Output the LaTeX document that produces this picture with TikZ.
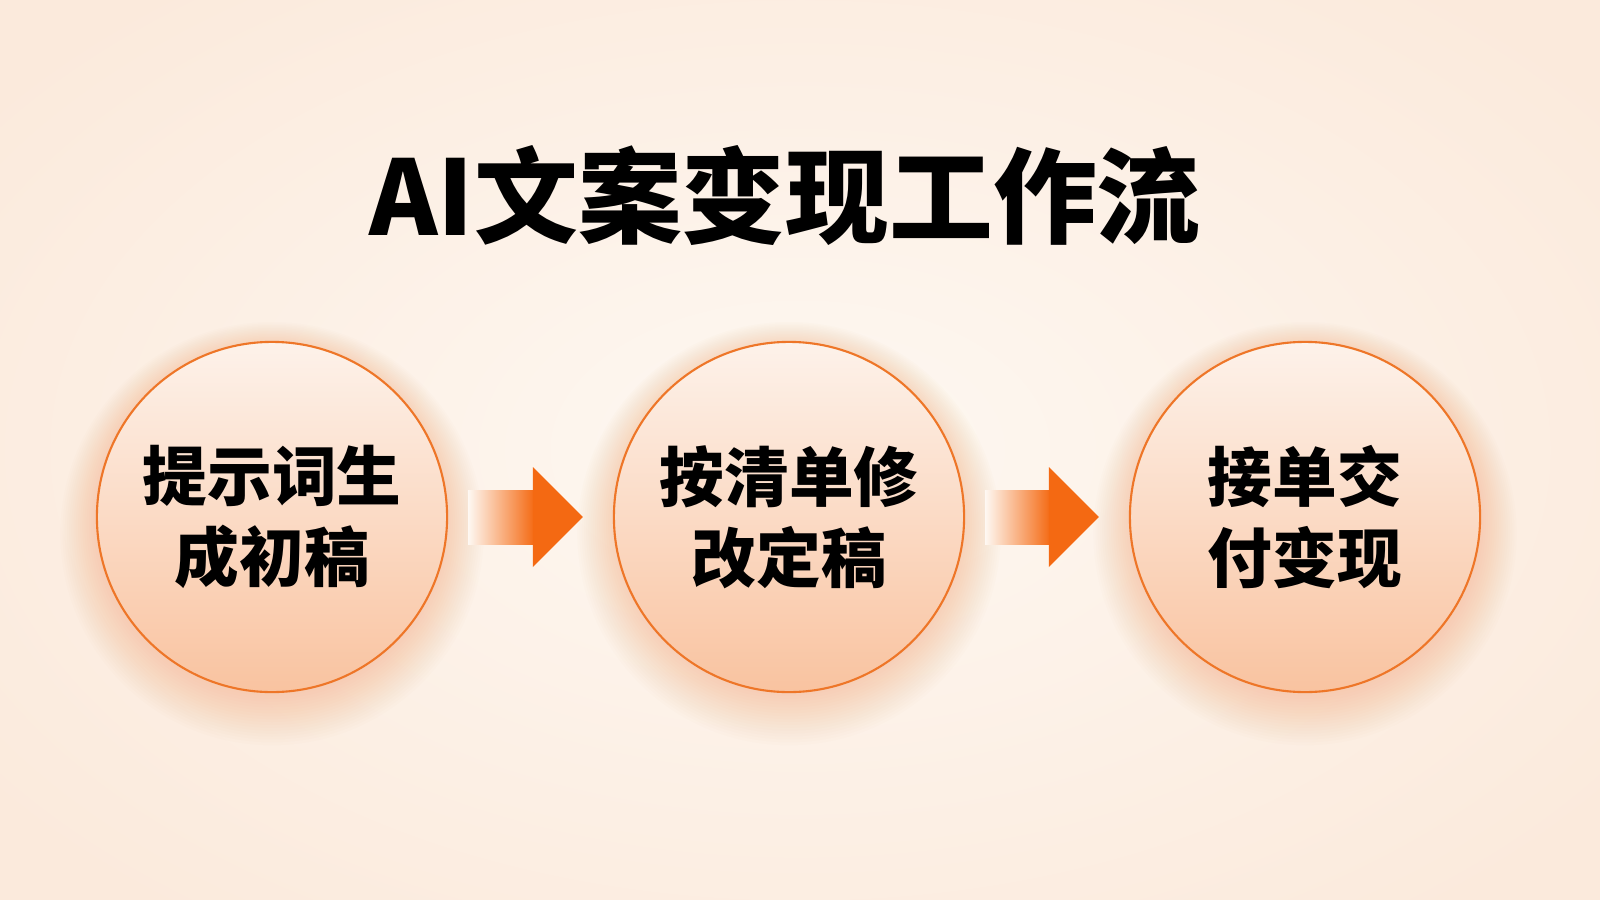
\documentclass[tikz,border=0pt]{standalone}
\usepackage{fontspec}
\newfontfamily\cjk{Noto Sans CJK SC}
\usetikzlibrary{calc}
\definecolor{bgin}{HTML}{FEF8F2}
\definecolor{bgout}{HTML}{FBEADC}
\definecolor{ctop}{HTML}{FDF2EA}
\definecolor{cbot}{HTML}{F9C3A0}
\definecolor{cborder}{HTML}{EE7628}
\definecolor{arrowc}{HTML}{F46912}
\definecolor{glow}{HTML}{F7A46C}
\tikzset{
  stepcircle/.style={circle, minimum size=3.5cm, draw=cborder, line width=0.6pt,
    top color=ctop, bottom color=cbot, align=center, inner sep=0pt,
    font=\cjk\bfseries\fontsize{18.4}{23}\selectfont, text=black},
  titletext/.style={font=\cjk\bfseries\fontsize{29.5}{34}\selectfont, text=black},
}
\newcommand{\glowat}[1]{%
  \foreach \k in {1,...,18}{%
    \fill[glow, opacity=0.022] ($(#1)+(0,{4+0.7*\k})$) circle ({172+2.2*\k});
  }%
}
\begin{document}
\begin{tikzpicture}[x=0.01cm, y=-0.01cm]
  \useasboundingbox (0,0) rectangle (1600,900);
  \shade[inner color=bgin, outer color=bgout] (-200,-150) rectangle (1800,1050);
  % title
  \node[titletext] (title) at (785,196) {AI文案变现工作流};
  % glows
  \coordinate (g1) at (272,517);
  \coordinate (g2) at (789,517);
  \coordinate (g3) at (1305,517);
  \glowat{g1}\glowat{g2}\glowat{g3}
  % circles
  \node[stepcircle] (c1) at (272,517) {提示词生\\成初稿};
  \node[stepcircle] (c2) at (789,517) {按清单修\\改定稿};
  \node[stepcircle] (c3) at (1305,517) {接单交\\付变现};
  % arrows
  \foreach \a/\b in {c1/c2, c2/c3}{
    \coordinate (s) at ($(\a.east)+(20,0)$);
    \coordinate (t) at ($(\b.west)+(-30,0)$);
    \shade[left color=bgin, right color=arrowc] ($(s)+(0,-27)$) rectangle ($(t)+(-48,27)$);
    \fill[arrowc] ($(t)+(-50,-27)$) -- ($(t)+(-50,-50)$) -- (t) -- ($(t)+(-50,50)$) -- ($(t)+(-50,27)$) -- cycle;
  }
\end{tikzpicture}
\end{document}
